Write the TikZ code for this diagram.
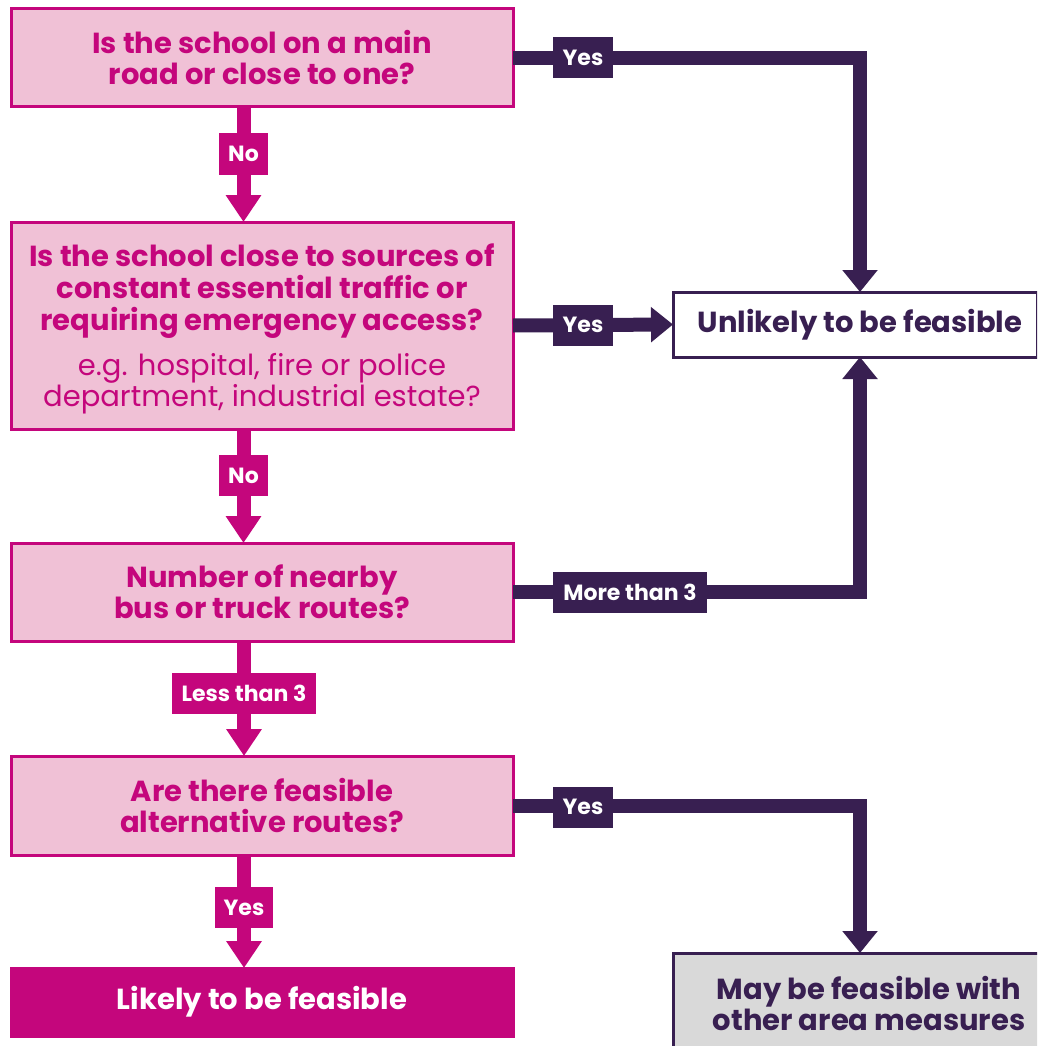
\documentclass[tikz,border=0pt]{standalone}
\usepackage{fontspec}
\setmainfont{Poppins}
\usetikzlibrary{arrows.meta}
\definecolor{mag}{HTML}{C4067C}
\definecolor{pinkfill}{HTML}{F0C1D6}
\definecolor{purp}{HTML}{381F51}
\definecolor{greyfill}{HTML}{D9D9D9}
\begin{document}
\begin{tikzpicture}[x=1pt,y=-1pt,
  qbox/.style={draw=mag,line width=3pt,fill=pinkfill,text=mag,
    font=\bfseries\fontsize{29}{31}\selectfont,align=center,
    minimum width=502pt,inner sep=0pt,outer sep=0pt},
  endbox/.style={line width=3pt,align=center,inner sep=0pt,outer sep=0pt,
    font=\bfseries\fontsize{29}{31}\selectfont},
  mlabel/.style={fill=mag,text=white,font=\bfseries\fontsize{22}{24}\selectfont,
    minimum height=41pt,inner sep=0pt,outer sep=0pt},
  plabel/.style={fill=purp,text=white,font=\bfseries\fontsize{22}{24}\selectfont,
    minimum height=41pt,inner sep=0pt,outer sep=0pt},
  marr/.style={draw=mag,line width=14pt,line join=miter,-{Triangle[width=34pt,length=27pt]}},
  parr/.style={draw=purp,line width=14pt,line join=miter,-{Triangle[width=34pt,length=22pt]}}
]
\clip (0,0) rectangle (1037,1046);
\fill[white] (0,0) rectangle (1037,1046);

% question boxes
\node[qbox,minimum height=98pt] (b1) at (262,58) {Is the school on a main\\road or close to one?};
\node[qbox,minimum height=207pt] (b2) at (262,325.5) {\rule{0pt}{29pt}Is the school close to sources of\\[1pt]constant essential traffic or\\[1pt]requiring emergency access?\\[14pt]{\mdseries e.g. hospital, fire or police}\\[0pt]{\mdseries department, industrial estate?}};
\node[qbox,minimum height=98pt] (b3) at (262,592) {Number of nearby\\bus or truck routes?};
\node[qbox,minimum height=99pt] (b4) at (262,805.5) {Are there feasible\\alternative routes?};
\node[endbox,draw=mag,fill=mag,text=white,minimum width=502pt,minimum height=68pt] (b5) at (262,1002) {\raisebox{-3pt}{Likely to be feasible}};

% outcome boxes
\node[endbox,draw=purp,fill=white,text=purp,minimum width=364pt,minimum height=65pt] (unl) at (855,324.5) {\hspace*{10pt}\raisebox{-2pt}{Unlikely to be feasible}};
\node[endbox,draw=purp,fill=greyfill,text=purp,minimum width=392pt,minimum height=100pt] (may) at (869,1003) {May be feasible with\\other area measures};

% label nodes (positions)
\node[mlabel,minimum width=49pt] (lno1) at (243.5,154) {No};
\node[mlabel,minimum width=49pt] (lno2) at (243.5,475.5) {No};
\node[mlabel,minimum width=144pt] (lless) at (244,693.5) {Less than 3};
\node[mlabel,minimum width=58pt] (lyes4) at (244,907.5) {Yes};
\node[plabel,minimum width=60pt] (lyes1) at (583,57.5) {Yes};
\node[plabel,minimum width=60pt] (lyes2) at (583,325) {Yes};
\node[plabel,minimum width=154pt] (lmore) at (630,592.5) {More than 3};
\node[plabel,minimum width=60pt] (lyes3) at (583,807) {Yes};

% connectors
\draw[marr] (b1.south -| lno1.center) -- (b2.north -| lno1.center);
\draw[marr] (b2.south -| lno2.center) -- (b3.north -| lno2.center);
\draw[marr] (b3.south -| lless.center) -- (b4.north -| lless.center);
\draw[marr] (b4.south -| lyes4.center) -- (b5.north -| lyes4.center);
\draw[parr] (b1.east) -| ([xshift=5pt]unl.north);
\draw[parr] (b2.east) -- (unl.west);
\draw[parr] (b3.east) -| ([xshift=5pt]unl.south);
\draw[parr] (b4.east) -| ([xshift=-9pt]may.north);

% labels on top of connectors
\node[mlabel,minimum width=49pt] (tno1) at (lno1) {No};
\node[mlabel,minimum width=49pt] (tno2) at (lno2) {No};
\node[mlabel,minimum width=144pt] (tless) at (lless) {Less than 3};
\node[mlabel,minimum width=58pt] (tyes4) at (lyes4) {Yes};
\node[plabel,minimum width=60pt] (tyes1) at (lyes1) {Yes};
\node[plabel,minimum width=60pt] (tyes2) at (lyes2) {Yes};
\node[plabel,minimum width=154pt] (tmore) at (lmore) {More than 3};
\node[plabel,minimum width=60pt] (tyes3) at (lyes3) {Yes};
\end{tikzpicture}
\end{document}
